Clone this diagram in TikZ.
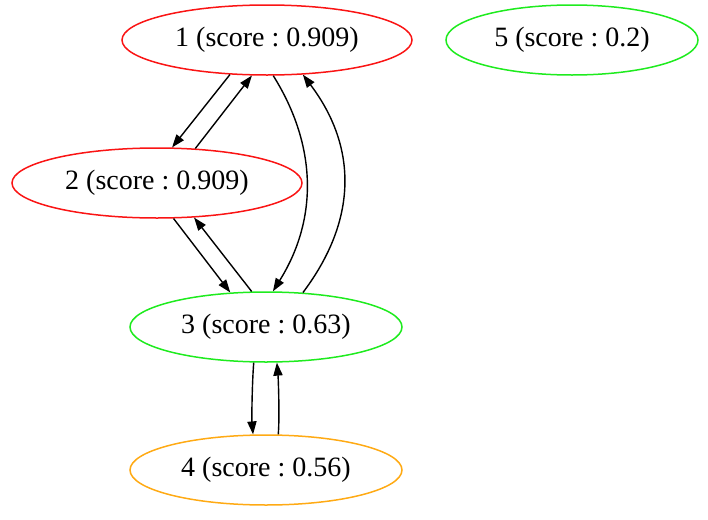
\documentclass[tikz,border=0pt]{standalone}
\usepackage{fontspec}
\setmainfont{Liberation Serif}
\frenchspacing
\usetikzlibrary{shapes.geometric, arrows.meta}
\definecolor{scorered}{RGB}{250,20,20}
\definecolor{scoregreen}{RGB}{30,235,30}
\definecolor{scoreorange}{RGB}{255,170,20}

\begin{document}
\begin{tikzpicture}[x=0.5pt, y=0.5pt,
   place/.style={ellipse, draw, line width=0.75pt, inner sep=0pt, minimum height=35pt, font=\fontsize{14}{17}\selectfont},
   transition/.style={-{Triangle[length=6.5pt, width=4.6pt]}, line width=0.7pt}]
\useasboundingbox (0,0) rectangle (708,-520);
\node[place, draw=scorered, minimum width=145pt] (n1) at (267,-40) {1 (score : 0.909)};
\node[place, draw=scorered, minimum width=145pt] (n2) at (157,-183) {2 (score : 0.909)};
\node[place, draw=scoregreen, minimum width=136pt] (n3) at (266,-327) {3 (score : 0.63)};
\node[place, draw=scoreorange, minimum width=136pt] (n4) at (266,-470) {4 (score : 0.56)};
\node[place, draw=scoregreen, minimum width=126pt] (n5) at (572,-40) {5 (score : 0.2)};

\path
    (n1.223) edge[transition] (n2.67)
    (n2.42) edge[transition] (n1.247)
    (n1.280) edge[transition, out=-58, in=58] (n3.79)
    (n3.43) edge[transition, out=53, in=-53, looseness=1.07] (n1.316)
    (n2.295) edge[transition] (n3.136)
    (n3.112) edge[transition] (n2.317)
    (n3.251) edge[transition, out=265, in=95, looseness=0.6] (n4.110)
    (n4.71) edge[transition, out=85, in=275, looseness=0.6] (n3.287)
;

\end{tikzpicture}
\end{document}
